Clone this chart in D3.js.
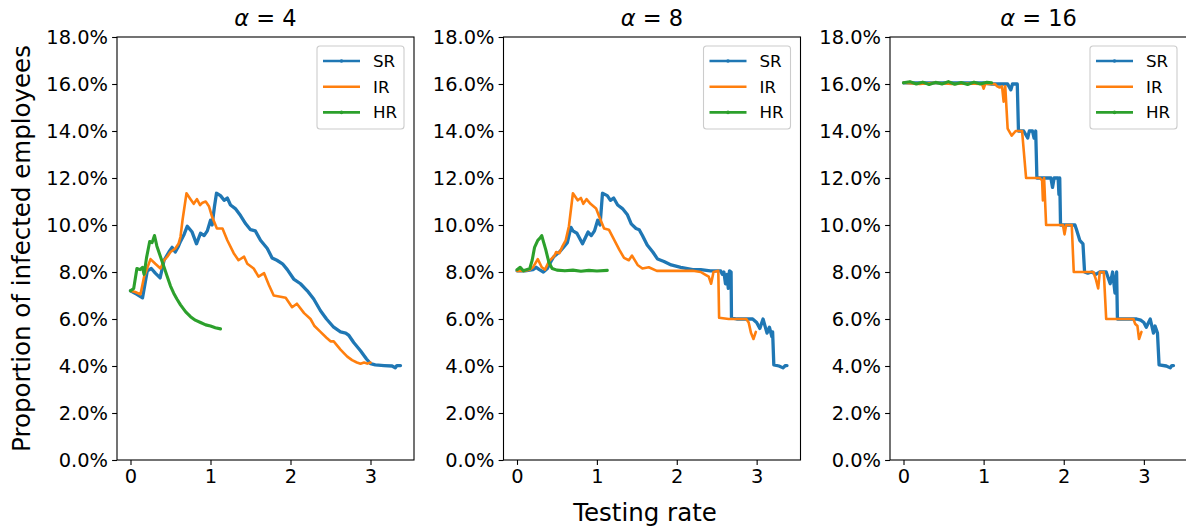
<!DOCTYPE html>
<html>
<head>
<meta charset="utf-8">
<script src="https://cdn.jsdelivr.net/npm/d3@7"></script>
<style>
  body { margin: 0; background: #fff; }
  svg { display: block; font-family: "DejaVu Sans", sans-serif; }
</style>
</head>
<body>
<script>
// Panel titles (alpha values) and series names
const alphas = [4, 8, 16];
const seriesNames = ["SR", "IR", "HR"];
const xTicks = [0, 1, 2, 3];
const yTicks = [0, 2, 4, 6, 8, 10, 12, 14, 16, 18];

// alpha = 4  ([testing rate, % infected])
const sr4 = [[0,7.2],[0.08,7.05],[0.15,6.9],[0.21,8.05],[0.26,8.15],[0.31,7.95],[0.37,7.75],[0.42,8.5],[0.48,8.85],[0.52,9.05],[0.56,8.85],[0.6,9.1],[0.625,9.3],[0.67,9.6],[0.71,9.95],[0.77,9.7],[0.825,9.2],[0.875,9.65],[0.92,9.55],[0.96,9.75],[1.0,10.2],[1.02,10.0],[1.05,10.8],[1.075,11.35],[1.125,11.25],[1.17,11.05],[1.21,11.15],[1.25,10.85],[1.31,10.7],[1.375,10.4],[1.44,10.05],[1.5,9.8],[1.56,9.75],[1.625,9.35],[1.71,9.0],[1.77,8.6],[1.83,8.5],[1.9,8.35],[1.96,8.1],[2.04,7.7],[2.125,7.5],[2.21,7.2],[2.29,6.85],[2.375,6.35],[2.45,6.0],[2.54,5.65],[2.625,5.45],[2.69,5.4],[2.73,5.3],[2.79,5.0],[2.875,4.65],[2.95,4.3],[3.0,4.1],[3.06,4.05],[3.17,4.02],[3.27,4.0],[3.31,3.92],[3.33,4.02],[3.375,4.02]];
const ir4 = [[0,7.2],[0.06,7.15],[0.125,7.05],[0.17,7.8],[0.25,8.55],[0.31,8.35],[0.375,8.15],[0.42,8.5],[0.46,8.65],[0.5,8.85],[0.56,9.0],[0.6,9.2],[0.625,9.5],[0.65,10.2],[0.7,11.35],[0.75,11.1],[0.79,10.9],[0.83,11.1],[0.87,10.85],[0.9,10.95],[0.94,11.0],[0.98,10.8],[1.02,10.35],[1.08,9.85],[1.15,9.85],[1.21,9.35],[1.29,8.8],[1.35,8.5],[1.42,8.65],[1.46,8.35],[1.54,8.15],[1.6,7.8],[1.67,7.95],[1.73,7.45],[1.79,7.0],[1.875,6.95],[1.94,6.9],[2.02,6.5],[2.08,6.65],[2.17,6.25],[2.25,6.0],[2.3,5.7],[2.375,5.45],[2.45,5.2],[2.5,5.05],[2.54,5.05],[2.625,4.7],[2.71,4.4],[2.77,4.25],[2.83,4.15],[2.875,4.1],[2.92,4.15],[2.96,4.1],[3.0,4.15]];
const hr4 = [[0,7.2],[0.04,7.3],[0.08,8.15],[0.12,8.1],[0.15,8.2],[0.17,7.9],[0.2,8.6],[0.24,9.3],[0.27,9.25],[0.3,9.55],[0.33,9.1],[0.375,8.65],[0.42,8.2],[0.46,7.8],[0.5,7.4],[0.54,7.1],[0.58,6.85],[0.625,6.6],[0.69,6.3],[0.75,6.1],[0.81,5.95],[0.875,5.85],[0.94,5.75],[1.0,5.7],[1.06,5.63],[1.125,5.58]];

// alpha = 8
const sr8 = [[0,8.05],[0.1,8.05],[0.2,8.1],[0.24,8.2],[0.28,8.1],[0.33,8.0],[0.38,8.15],[0.425,8.45],[0.46,8.65],[0.53,8.85],[0.57,9.0],[0.63,9.25],[0.675,9.9],[0.7,9.75],[0.75,9.65],[0.82,9.2],[0.89,9.7],[0.93,9.55],[0.97,9.75],[1.01,10.2],[1.04,10.0],[1.07,11.35],[1.13,11.25],[1.17,11.05],[1.21,11.15],[1.26,10.85],[1.32,10.7],[1.38,10.45],[1.43,10.05],[1.49,9.85],[1.53,9.8],[1.57,9.55],[1.63,9.15],[1.7,8.85],[1.76,8.55],[1.84,8.45],[1.93,8.3],[2.05,8.2],[2.2,8.1],[2.3,8.1],[2.42,8.05],[2.55,8.05],[2.57,7.9],[2.59,8.0],[2.61,7.5],[2.63,7.9],[2.645,7.3],[2.66,8.05],[2.68,8.0],[2.685,6.05],[2.75,6.0],[2.85,6.0],[2.95,6.0],[3.0,5.85],[3.04,5.6],[3.08,6.0],[3.13,5.4],[3.16,5.65],[3.19,5.25],[3.2,5.45],[3.215,4.05],[3.28,4.0],[3.33,3.92],[3.36,4.02],[3.38,4.02]];
const ir8 = [[0,8.05],[0.1,8.05],[0.16,8.1],[0.2,8.2],[0.26,8.55],[0.31,8.2],[0.35,8.1],[0.4,8.45],[0.47,8.7],[0.49,8.85],[0.53,8.8],[0.57,9.1],[0.61,9.35],[0.65,9.95],[0.7,11.35],[0.76,11.05],[0.8,11.15],[0.83,10.9],[0.87,11.1],[0.92,10.9],[0.99,10.7],[1.03,10.35],[1.09,9.85],[1.15,9.8],[1.22,9.35],[1.28,8.95],[1.34,8.6],[1.4,8.5],[1.44,8.7],[1.51,8.3],[1.57,8.15],[1.65,8.2],[1.75,8.05],[1.9,8.05],[2.05,8.05],[2.2,8.05],[2.3,8.0],[2.35,7.9],[2.4,7.8],[2.43,7.5],[2.46,8.0],[2.52,8.05],[2.53,6.05],[2.65,6.0],[2.8,6.0],[2.87,6.0],[2.9,5.85],[2.93,5.4],[2.96,5.15],[2.99,5.45]];
const hr8 = [[0,8.1],[0.04,8.2],[0.08,8.05],[0.12,8.1],[0.16,8.15],[0.19,8.5],[0.22,9.05],[0.26,9.35],[0.29,9.45],[0.31,9.55],[0.33,9.3],[0.36,8.95],[0.4,8.4],[0.44,8.15],[0.5,8.08],[0.6,8.05],[0.7,8.08],[0.8,8.03],[0.9,8.07],[1.0,8.04],[1.13,8.07]];

// alpha = 16
const sr16 = [[0,16.05],[0.2,16.05],[0.4,16.05],[0.6,16.05],[0.8,16.05],[1.0,16.05],[1.1,16.0],[1.2,16.0],[1.3,16.0],[1.34,15.75],[1.36,16.0],[1.42,16.0],[1.435,14.0],[1.5,14.0],[1.55,13.7],[1.57,14.0],[1.61,14.0],[1.63,13.7],[1.65,14.0],[1.665,12.0],[1.75,12.0],[1.84,12.0],[1.86,11.6],[1.88,12.0],[1.93,12.0],[1.94,11.3],[1.95,12.0],[1.96,10.0],[2.05,10.0],[2.14,10.0],[2.16,9.8],[2.2,9.35],[2.24,9.2],[2.26,8.0],[2.3,7.95],[2.35,8.0],[2.4,7.9],[2.45,8.0],[2.53,8.0],[2.58,7.5],[2.61,8.0],[2.64,7.1],[2.66,8.0],[2.67,6.0],[2.8,6.0],[2.91,6.0],[2.96,5.95],[3.0,5.85],[3.03,5.65],[3.08,6.0],[3.12,5.4],[3.14,5.7],[3.17,5.4],[3.19,4.05],[3.28,4.0],[3.33,3.92],[3.35,4.02],[3.37,4.02]];
const ir16 = [[0,16.05],[0.2,16.0],[0.4,16.05],[0.6,16.0],[0.8,16.02],[0.98,16.0],[1.0,15.8],[1.02,16.0],[1.14,16.0],[1.17,15.9],[1.2,15.85],[1.23,15.9],[1.25,15.25],[1.27,15.9],[1.3,14.1],[1.35,13.8],[1.4,14.0],[1.48,14.0],[1.53,12.0],[1.7,12.0],[1.73,11.9],[1.74,11.05],[1.755,12.0],[1.78,10.0],[1.9,10.0],[1.99,10.0],[2.01,9.6],[2.03,10.0],[2.1,10.0],[2.125,8.0],[2.25,8.0],[2.37,8.0],[2.4,7.7],[2.43,7.3],[2.45,8.0],[2.5,8.0],[2.53,6.0],[2.7,6.0],[2.87,6.0],[2.89,5.8],[2.92,5.7],[2.94,5.15],[2.97,5.45]];
const hr16 = [[0,16.05],[0.08,16.1],[0.16,16.0],[0.24,16.08],[0.32,15.98],[0.4,16.07],[0.48,16.0],[0.56,16.1],[0.64,15.99],[0.72,16.06],[0.8,15.98],[0.88,16.08],[0.96,16.0],[1.04,16.07],[1.1,16.05]];

const panelData = [[sr4, ir4, hr4], [sr8, ir8, hr8], [sr16, ir16, hr16]];

// Colors (matplotlib tab10)
const colors = ["#1f77b4", "#ff7f0e", "#2ca02c"];
const widths = [3.3, 2.6, 3.1];

const W = 1186, H = 528;
const panelLeft = [117, 503.5, 890];
const panelW = 297;
const axTop = 37, axBottom = 460;

const svg = d3.select("body").append("svg")
    .attr("width", W)
    .attr("height", H);

panelData.forEach((series, p) => {
    const x0 = panelLeft[p];
    const g = svg.append("g").attr("transform", `translate(${x0},0)`);

    // x domain from data with 5% margins (like matplotlib autoscale)
    const allX = series.flat().map(d => d[0]);
    const [xmin, xmax] = d3.extent(allX);
    const pad = (xmax - xmin) * 0.05;
    const x = d3.scaleLinear().domain([xmin - pad, xmax + pad]).range([0, panelW]);
    const y = d3.scaleLinear().domain([0, 18]).range([axBottom, axTop]);

    // Lines
    const line = d3.line().x(d => x(d[0])).y(d => y(d[1]));
    series.forEach((s, i) => {
        g.append("path")
            .datum(s)
            .attr("d", line)
            .attr("fill", "none")
            .attr("stroke", colors[i])
            .attr("stroke-width", widths[i])
            .attr("stroke-linejoin", "round")
            .attr("stroke-linecap", "round");
    });

    // Axes
    const yAxis = d3.axisLeft(y)
        .tickValues(yTicks)
        .tickFormat(d => d.toFixed(1) + "%")
        .tickSize(4.9)
        .tickSizeOuter(0)
        .tickPadding(4.2);
    const xAxis = d3.axisBottom(x)
        .tickValues(xTicks)
        .tickFormat(d3.format("d"))
        .tickSize(4.9)
        .tickSizeOuter(0)
        .tickPadding(4.2);

    const ya = g.append("g").call(yAxis);
    const xa = g.append("g").attr("transform", `translate(0,${axBottom})`).call(xAxis);
    [ya, xa].forEach(a => {
        a.select(".domain").remove();
        a.selectAll("line").attr("stroke", "#000").attr("stroke-width", 1.1);
        a.selectAll("text")
            .attr("fill", "#000")
            .style("font-size", "19.4px")
            .style("font-family", "DejaVu Sans");
    });

    // Frame
    g.append("rect")
        .attr("x", 0)
        .attr("y", axTop)
        .attr("width", panelW)
        .attr("height", axBottom - axTop)
        .attr("fill", "none")
        .attr("stroke", "#000")
        .attr("stroke-width", 1.1);

    // Title
    const t = svg.append("text")
        .attr("x", x0 + panelW / 2)
        .attr("y", 26)
        .attr("text-anchor", "middle")
        .style("font-size", "22.5px");
    t.append("tspan").style("font-style", "italic").text("α");
    t.append("tspan").text(" = " + alphas[p]);

    // Legend
    const lx = panelW - 10 - 87, ly = axTop + 9;
    const lg = g.append("g").attr("transform", `translate(${lx},${ly})`);
    lg.append("rect")
        .attr("width", 87)
        .attr("height", 83)
        .attr("rx", 3)
        .attr("fill", "#fff")
        .attr("fill-opacity", 0.8)
        .attr("stroke", "#cccccc")
        .attr("stroke-width", 1.1);
    seriesNames.forEach((name, i) => {
        const ry = 15 + i * 25.7;
        lg.append("line")
            .attr("x1", 6).attr("x2", 43)
            .attr("y1", ry).attr("y2", ry)
            .attr("stroke", colors[i])
            .attr("stroke-width", i === 1 ? 2.5 : 2.7);
        if (i !== 1) {
            lg.append("circle")
                .attr("cx", 24.5).attr("cy", ry).attr("r", 1.8)
                .attr("fill", colors[i]);
        }
        lg.append("text")
            .attr("x", 56)
            .attr("y", ry + 6)
            .style("font-size", "16.7px")
            .text(name);
    });
});

// Shared axis labels
svg.append("text")
    .attr("transform", `translate(30,${(axTop + axBottom) / 2}) rotate(-90)`)
    .attr("text-anchor", "middle")
    .style("font-size", "24.5px")
    .text("Proportion of infected employees");

svg.append("text")
    .attr("x", 645)
    .attr("y", 521)
    .attr("text-anchor", "middle")
    .style("font-size", "24.5px")
    .text("Testing rate");
</script>
</body>
</html>
